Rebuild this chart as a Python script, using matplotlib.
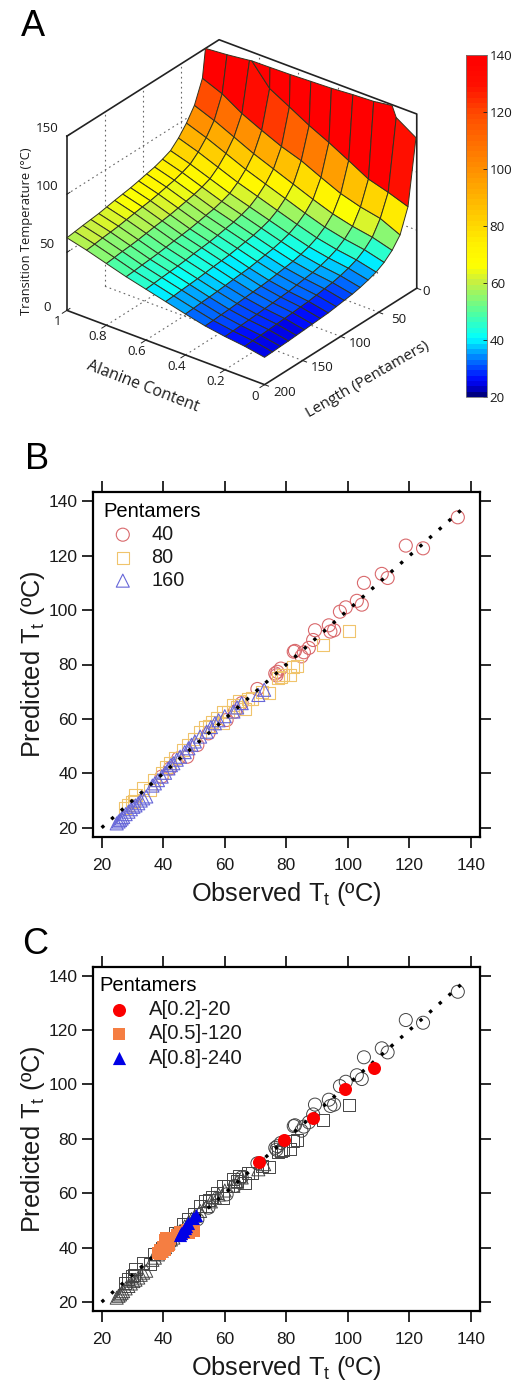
import numpy as np
import matplotlib
matplotlib.use("Agg")
import matplotlib.pyplot as plt
from matplotlib.colors import LinearSegmentedColormap, Normalize
from matplotlib.cm import ScalarMappable
from mpl_toolkits.mplot3d import proj3d
from mpl_toolkits.mplot3d.art3d import Poly3DCollection

plt.rcParams['font.family'] = ['Liberation Sans', 'DejaVu Sans']
plt.rcParams['mathtext.default'] = 'regular'
plt.rcParams['lines.scale_dashes'] = False

W, H = 516, 1385
TEXT = '#1a1a1a'
FONT_A = ['Open Sans', 'DejaVu Sans']

# Panel A: surface
alanine = [0.0, 0.1, 0.2, 0.3, 0.4, 0.5, 0.6, 0.7, 0.8, 0.9, 1.0]
length = [1, 11.5, 21.9, 32.4, 42.9, 53.4, 63.9, 74.4, 84.8, 95.3, 105.8,
          116.3, 126.7, 137.2, 147.7, 158.2, 168.6, 179.1, 189.5, 200]
temp = [
    [130, 141, 184, 200, 250, 292, 400, 600, 700, 700, 700],
    [75, 81, 86, 95.5, 104.7, 113, 122.6, 132, 152, 170, 189],
    [55, 62.8, 66.3, 71.4, 79, 87, 92.8, 100.3, 108.4, 119, 126],
    [46, 50.9, 53.9, 58.2, 64.3, 71, 77.7, 84.4, 92.4, 100.3, 107],
    [40, 44.5, 47.3, 51.2, 56.8, 63, 69.1, 75.3, 82.6, 89.8, 96],
    [36, 40.1, 42.7, 46.3, 51.5, 57.1, 62.8, 68.4, 75.1, 81.8, 87.5],
    [33.5, 37.3, 39.7, 43, 47.8, 53, 58.2, 63.4, 69.6, 75.8, 81],
    [31.5, 35.2, 37.5, 40.8, 45.5, 50.6, 55.7, 60.8, 66.8, 72.9, 78],
    [30, 33.6, 35.9, 39.1, 43.7, 48.7, 53.7, 58.7, 64.7, 70.6, 75.6],
    [29, 32.6, 34.9, 38, 42.5, 47.5, 52.4, 57.4, 63.2, 69.1, 74],
    [28, 31.5, 33.8, 36.9, 41.3, 46.2, 51, 55.9, 61.7, 67.4, 72.3],
    [27, 30.5, 32.7, 35.8, 40.1, 45, 49.8, 54.6, 60.3, 66, 70.8],
    [26.5, 30, 32.1, 35.1, 39.5, 44.2, 49, 53.7, 59.3, 65, 69.7],
    [26, 29.4, 31.5, 34.5, 38.8, 43.5, 48.2, 52.8, 58.4, 63.9, 68.6],
    [25.5, 28.8, 30.9, 33.9, 38, 42.6, 47.2, 51.8, 57.3, 62.7, 67.3],
    [25, 28.3, 30.3, 33.2, 37.3, 41.8, 46.3, 50.8, 56.2, 61.5, 66],
    [24.5, 27.8, 29.8, 32.6, 36.7, 41.2, 45.7, 50.1, 55.4, 60.7, 65.2],
    [24.2, 27.4, 29.4, 32.2, 36.3, 40.7, 45.1, 49.5, 54.8, 60, 64.4],
    [23.8, 27, 29, 31.7, 35.7, 40, 44.4, 48.7, 53.9, 59, 63.4],
    [23.5, 26.6, 28.6, 31.3, 35.2, 39.5, 43.8, 48.1, 53.1, 58.2, 62.5],
]
z_ticks = [0, 50, 100, 150]
alanine_ticks = [1, 0.8, 0.6, 0.4, 0.2, 0]
length_ticks = [0, 50, 100, 150, 200]
cbar_ticks = [20, 40, 60, 80, 100, 120, 140]

# Panels B and C: observed, predicted
circ_x = [135.7, 124.4, 118.8, 112.9, 111, 105.2, 104.5, 102.9, 99.3, 97.4, 95.5, 94.3,
          93.8, 89.3, 88.7, 87.3, 85.7, 84.9, 82.8, 82.4, 78.2, 77.1, 76.4, 76.8, 70.6,
          65.5, 63.3, 60.6, 54.7, 51.1, 47.8, 44.9, 42.2, 39.5]
circ_y = [134.1, 122.7, 123.7, 111.8, 113.3, 110, 102, 103.4, 101, 99.4, 92.6, 92.1,
          94.4, 92.6, 89, 86.1, 84.5, 83, 85, 84.7, 78.5, 77.3, 76.7, 76, 71,
          65.8, 62.7, 59.6, 54.7, 50.4, 46.1, 45.5, 41.8, 38.8]
squa_x = [100.3, 92, 83.6, 82.2, 81.2, 79, 78.4, 77.4, 74.5, 72, 69, 67.7, 66.6, 64.5, 64,
          62.8, 61, 59.5, 59.5, 57.4, 56, 55, 53.6, 52, 50, 48.2, 46.5, 44, 42.2, 41,
          39.5, 37, 35.7, 33.5, 31, 30.5, 29.8, 28.5, 27.6]
squa_y = [92.3, 87, 79.6, 79.1, 76.2, 76, 75.5, 75, 69.7, 70, 67.5, 67.4, 63.6, 66.5, 64.5,
          65.2, 62.5, 62.7, 58.4, 60.2, 58.7, 57.5, 57.2, 55.3, 52.5, 50.4, 48.6, 45.5, 43.7, 42.5,
          40, 37.5, 33.9, 34.5, 32, 30, 29.6, 28.5, 27.1]
tria_x = [24.9, 25.5, 26, 26.5, 27, 27.8, 28.7, 29.5, 30.3, 31, 31.9, 32.7, 33.5, 34.5, 36.5,
          37.3, 38.3, 39.5, 40.6, 41.7, 42.5, 43.3, 44.4, 45.5, 47, 48.2, 49.2, 50.3, 52, 54.1,
          55.5, 56.8, 58, 60, 62.8, 64, 65.5, 70.9, 72.8]
tria_y = [21.6, 22.3, 22.8, 23.4, 24, 25, 25.9, 26.8, 27.7, 28.2, 29, 30, 30.8, 31.5, 35.5,
          36.3, 37.5, 38.8, 40.2, 41.8, 43, 43.7, 45, 46.1, 47.8, 49.2, 50.5, 51.7, 53.5, 55.3,
          57, 58.4, 59.5, 61, 62.7, 64.2, 65.8, 68.8, 70.7]
red_x = [108.6, 99.2, 88.5, 79.2, 71.2]
red_y = [106.1, 98.2, 87.5, 79.5, 71.5]
orange_x = [38.2, 39, 39, 39.6, 40, 40.5, 40.6, 41, 41.1, 41.5, 42, 42.3,
            44.5, 45.4, 46, 47.6, 48.5, 49.7, 50]
orange_y = [38.2, 37.5, 39.1, 38.5, 40.4, 39, 42.8, 43.5, 42.2, 40.5, 41, 43,
            44.5, 45.9, 45, 46.5, 45.5, 47.1, 46]
blue_x = [45.3, 45.9, 46.5, 47, 47.5, 48, 49.7, 50.8]
blue_y = [44.5, 45.3, 46, 47.1, 48, 49, 50.8, 52]
fit_x = [20, 138.7]
fit_y = [20, 138.7]
axis_ticks = [20, 40, 60, 80, 100, 120, 140]

fig = plt.figure(figsize=(W / 100, H / 100), dpi=100)


def rect(left, top, right, bottom):
    return [left / W, 1 - bottom / H, (right - left) / W, (bottom - top) / H]


def clip_top(pts, top=150):
    # cut one surface cell at the top of the box, as the z limit does in the original
    out = []
    for a, b in zip(pts, pts[1:] + pts[:1]):
        if a[2] <= top:
            out.append(a)
        if (a[2] - top) * (b[2] - top) < 0:
            t = (top - a[2]) / (b[2] - a[2])
            out.append((a[0] + t * (b[0] - a[0]), a[1] + t * (b[1] - a[1]), top))
    return out


# ---- colour scale of panel A
cmap = LinearSegmentedColormap.from_list('bar', [
    (0.0, '#000080'), (3 / 120, '#0000e0'), (6 / 120, '#0010ff'), (14 / 120, '#0090ff'),
    (20 / 120, '#00ffff'), (29 / 120, '#50ffa0'), (40 / 120, '#c8f040'), (46 / 120, '#ffff00'),
    (54 / 120, '#fff000'), (60 / 120, '#ffd800'), (80 / 120, '#ff9000'), (100 / 120, '#ff4a00'),
    (110 / 120, '#ff1000'), (1.0, '#ff0000')], N=64)
norm = Normalize(20, 140)

# ---- panel A
ax3 = fig.add_axes(rect(39.75, 20.75, 433.25, 414.25), projection='3d', proj_type='ortho',
                   computed_zorder=False)
ax3.set_box_aspect((1, 1, 0.8))
ax3.view_init(elev=29.2, azim=127.6)
ax3.set_xlim(0, 1)
ax3.set_ylim(0, 200)
ax3.set_zlim(0, 150)
ax3.set_axis_off()
ax3.patch.set_alpha(0)
proj = ax3.get_proj()


def label3d(x, y, z, s):
    # tick label placed at the projected spot, as plain 2D text
    u, v, _ = proj3d.proj_transform(x, y, z, proj)
    ax3.text2D(u, v, s, transform=ax3.transData, ha='center', va='center', fontsize=9.6,
               color=TEXT, family=FONT_A)


dot = dict(color='#666666', lw=0.8, ls=(0, (1.2, 2.4)), zorder=1)
for z in z_ticks[1:-1]:
    ax3.plot([1, 1], [200, 0], [z, z], **dot)
    ax3.plot([1, 0], [0, 0], [z, z], **dot)
for a in alanine_ticks[1:-1]:
    ax3.plot([a, a], [200, 0], [0, 0], **dot)
    ax3.plot([a, a], [0, 0], [0, 150], **dot)
for n in length_ticks[1:-1]:
    ax3.plot([1, 0], [n, n], [0, 0], **dot)
    ax3.plot([1, 1], [n, n], [0, 150], **dot)

cells, cell_colors = [], []
for i in range(len(length) - 1):
    for j in range(len(alanine) - 1):
        corners = [(alanine[j], length[i], temp[i][j]),
                   (alanine[j + 1], length[i], temp[i][j + 1]),
                   (alanine[j + 1], length[i + 1], temp[i + 1][j + 1]),
                   (alanine[j], length[i + 1], temp[i + 1][j])]
        cell = clip_top(corners)
        if len(cell) >= 3:
            cells.append(cell)
            cell_colors.append(cmap(norm(temp[i][j])))
surf = Poly3DCollection(cells, facecolors=cell_colors, edgecolors='#33331f',
                        linewidths=0.7, zorder=3)
ax3.add_collection3d(surf)

bold = dict(color='#222222', lw=1.2, zorder=2)
ax3.plot([1, 1, 0, 0], [200, 0, 0, 0], [150, 150, 150, 0], **bold)
ax3.plot([1, 1], [200, 200], [150, 0], **bold)
ax3.plot([1, 0, 0], [200, 200, 0], [0, 0, 0], **bold)

for z in z_ticks:
    ax3.plot([1, 1], [200, 196], [z, z], color='#222222', lw=0.7, zorder=2)
    label3d(1.1, 200, z - (4 if z == 0 else 0), str(z))
for a in alanine_ticks:
    ax3.plot([a, a], [200, 206], [0, 0], color='#222222', lw=0.7, zorder=2)
    label3d(a, 212, -5, str(a))
for n in length_ticks:
    ax3.plot([0, -0.02], [n, n], [0, 0], color='#222222', lw=0.7, zorder=2)
    label3d(-0.045 if n == 0 else -0.1, n, 0, str(n))

fig.text(27 / W, 1 - 231 / H, 'Transition Temperature (°C)', rotation=90, fontsize=9.3,
         ha='center', va='center', color=TEXT, family=FONT_A)
fig.text(143 / W, 1 - 387 / H, 'Alanine Content', rotation=-21, fontsize=11.4,
         ha='center', va='center', color=TEXT, family=FONT_A)
fig.text(368 / W, 1 - 380 / H, 'Length (Pentamers)', rotation=30, fontsize=11,
         ha='center', va='center', color=TEXT, family=FONT_A)

cax = fig.add_axes(rect(466, 55, 487, 397))
cb = fig.colorbar(ScalarMappable(norm=norm, cmap=cmap), cax=cax, ticks=cbar_ticks)
cb.ax.tick_params(direction='in', length=3, width=0.6, labelsize=9.6, pad=2, colors=TEXT)
for t in cb.ax.get_yticklabels():
    t.set_family(FONT_A)
cb.outline.set_linewidth(0.6)
cb.outline.set_edgecolor('#777777')

for letter, x, y in [('A', 21, 26), ('B', 25, 459), ('C', 22, 944)]:
    fig.text(x / W, 1 - y / H, letter, fontsize=26, va='center', ha='left', color='black')


# ---- panels B and C
def scatter_axes(top, bottom, ylim):
    ax = fig.add_axes(rect(93, top, 480, bottom))
    ax.set_xlim(17.2, 142.9)
    ax.set_ylim(*ylim)
    ax.set_xticks(axis_ticks)
    ax.set_yticks(axis_ticks)
    ax.tick_params(direction='out', length=7.7, width=1.3, labelsize=12.5, pad=3.5,
                   top=True, right=True, colors=TEXT)
    ax.tick_params(axis='x', pad=7.5)
    for s in ax.spines.values():
        s.set_linewidth(1.6)
    ax.set_xlabel('Observed T$_{t}$ (ºC)', fontsize=18.3, labelpad=5, color=TEXT)
    ax.set_ylabel('Predicted T$_{t}$ (ºC)', fontsize=18.3, labelpad=1, color=TEXT)
    return ax


def fit_line(ax):
    ax.plot(fit_x, fit_y, color='black', lw=2.4, ls=(0, (2.4, 6.86)), dash_capstyle='butt', zorder=5)


axb = scatter_axes(492, 837, (16.6, 143.4))
h1 = axb.scatter(circ_x, circ_y, s=88, marker='o', facecolors='none', edgecolors='#d9696c', linewidths=0.8, label='40')
h2 = axb.scatter(squa_x, squa_y, s=75, marker='s', facecolors='none', edgecolors='#f0c46c', linewidths=0.8, label='80')
h3 = axb.scatter(tria_x, tria_y, s=88, marker='^', facecolors='none', edgecolors='#6666d8', linewidths=0.8, label='160')
fit_line(axb)
axb.legend(handles=[h1, h2, h3], title='Pentamers', loc='upper left', frameon=False, fontsize=14.3,
           title_fontsize=14.5, alignment='left', handletextpad=0.45, labelspacing=0.2,
           borderaxespad=0.2, borderpad=0.3, labelcolor=TEXT)

axc = scatter_axes(967, 1311, (16.7, 143.2))
gray = dict(facecolors='none', edgecolors='#444444', linewidths=0.7)
axc.scatter(circ_x, circ_y, s=88, marker='o', **gray)
axc.scatter(squa_x, squa_y, s=75, marker='s', **gray)
axc.scatter(tria_x, tria_y, s=88, marker='^', **gray)
fit_line(axc)
k1 = axc.scatter(red_x, red_y, s=88, marker='o', color='#fb0000', linewidths=0, zorder=6, label='A[0.2]-20')
k2 = axc.scatter(orange_x, orange_y, s=85, marker='s', color='#f57e42', linewidths=0, zorder=6, label='A[0.5]-120')
k3 = axc.scatter(blue_x, blue_y, s=90, marker='^', color='#0000e6', linewidths=0, zorder=7, label='A[0.8]-240')
axc.legend(handles=[k1, k2, k3], title='Pentamers', loc='upper left', bbox_to_anchor=(0, 0.992), frameon=False,
           fontsize=14.6, title_fontsize=14.5, alignment='left', handletextpad=0.45, labelspacing=0.26,
           borderaxespad=0.0, borderpad=0.3, labelcolor=TEXT)

fig.savefig('out.png', dpi=100)
